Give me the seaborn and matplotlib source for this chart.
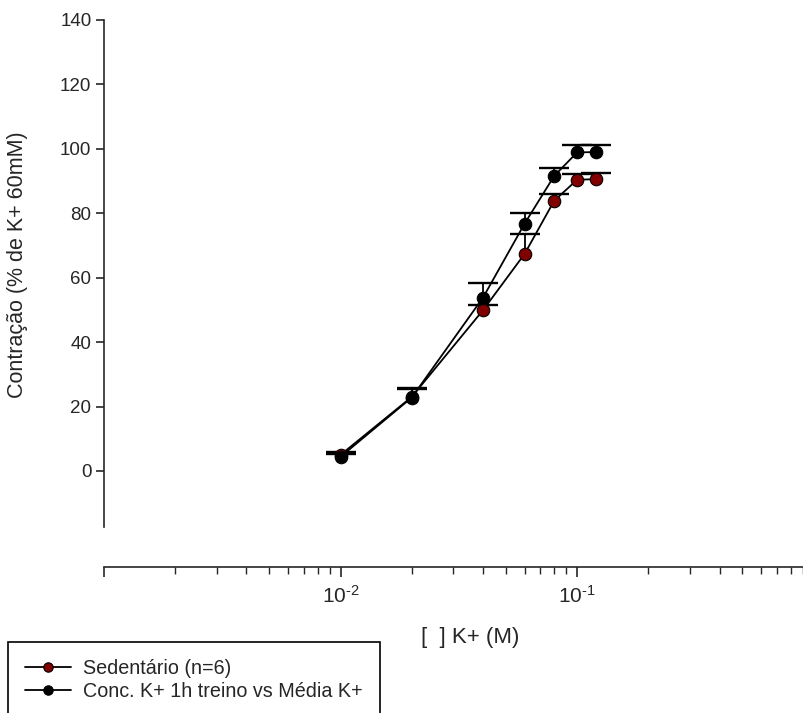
import numpy as np
import pandas as pd
import matplotlib
matplotlib.use("Agg")
import matplotlib.pyplot as plt
import seaborn as sns
from matplotlib.ticker import LogLocator, NullFormatter

sns.set_style("ticks")
plt.rcParams['font.family'] = ['Liberation Sans', 'DejaVu Sans']
plt.rcParams['mathtext.fontset'] = 'custom'
plt.rcParams['mathtext.rm'] = 'Liberation Sans'
plt.rcParams['mathtext.it'] = 'Liberation Sans:italic'
plt.rcParams['axes.unicode_minus'] = False

# data
conc = [0.01, 0.02, 0.04, 0.06, 0.08, 0.10, 0.12]
sed_mean = [5.0, 23.0, 49.9, 67.4, 83.9, 90.4, 90.6]
sed_err = [1.0, 2.5, 1.5, 6.1, 2.1, 1.9, 1.9]
treino_mean = [4.4, 22.8, 53.8, 76.8, 91.6, 98.9, 99.0]
treino_err = [1.0, 3.1, 4.5, 3.4, 2.6, 2.3, 2.3]
labels = ['Sedentário (n=6)', 'Conc. K+ 1h treino vs Média K+']
face_colors = ['#800000', 'black']

fig = plt.figure(figsize=(8.04, 7.13), dpi=100)
ax = fig.add_axes([104 / 804, 1 - 527 / 713, 700 / 804, 507 / 713])

series = [(sed_mean, sed_err), (treino_mean, treino_err)]
for (mean, err), lab, fc in zip(series, labels, face_colors):
    df = pd.DataFrame({'conc': conc, 'val': mean})
    _, caps, _ = ax.errorbar(conc, mean, yerr=[np.zeros(len(err)), err],
                             fmt='none', ecolor='black', elinewidth=1.3,
                             capsize=10.5, capthick=1.7, zorder=2)
    caps[0].set_visible(False)
    sns.lineplot(data=df, x='conc', y='val', ax=ax, color='black', lw=1.3,
                 marker='o', markersize=9, markerfacecolor=fc,
                 markeredgecolor='black', markeredgewidth=0.8,
                 label=lab, zorder=3, legend=False)

ax.set_xscale('log')
ax.set_xlim(1e-3, 0.91)
ax.set_ylim(-17.4, 140)
ax.set_yticks(np.arange(0, 141, 20))

ax.xaxis.set_minor_locator(LogLocator(base=10, subs=np.arange(2, 10), numticks=20))
ax.xaxis.set_minor_formatter(NullFormatter())
ax.set_xticks([1e-3, 1e-2, 1e-1])
ax.set_xticklabels(['', r'$10^{\text{-2}}$', r'$10^{\text{-1}}$'])

sns.despine(ax=ax)
ax.spines['bottom'].set_position(('outward', 29))
for s in ['left', 'bottom']:
    ax.spines[s].set_linewidth(1.2)
ax.tick_params(axis='y', which='major', length=6, width=1.2, pad=3, labelsize=13.5)
ax.tick_params(axis='x', which='major', length=7, width=1.2, pad=6, labelsize=15)
ax.tick_params(axis='x', which='minor', length=5, width=1.0)

ax.set_ylabel('Contração (% de K+ 60mM)', fontsize=15.5, va='center')
ax.yaxis.set_label_coords(-0.124, 0.517)
ax.set_xlabel('[  ] K+ (M)', fontsize=16, va='center')
ax.xaxis.set_label_coords(0.523, -0.217)

handles, labs = ax.get_legend_handles_labels()
leg = fig.legend(handles, labs, loc='upper left',
                 bbox_to_anchor=(8 / 804, 1 - 642 / 713),
                 fontsize=14.2, frameon=True, fancybox=False, edgecolor='black',
                 framealpha=1, borderpad=0.88, labelspacing=0.2,
                 handlelength=2.3, handletextpad=0.63, markerscale=0.75,
                 borderaxespad=0)
leg.get_frame().set_linewidth(1.2)

fig.savefig('out.png', dpi=100)
